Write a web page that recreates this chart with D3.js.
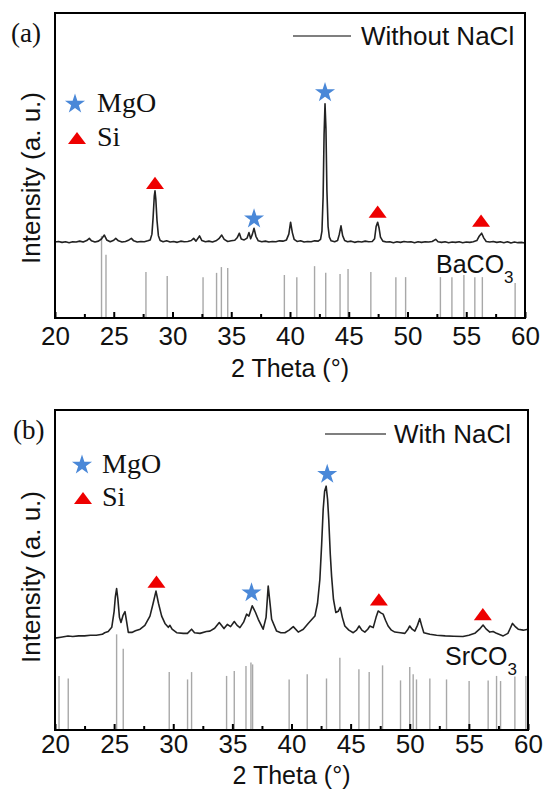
<!DOCTYPE html>
<html>
<head>
<meta charset="utf-8">
<script src="https://cdn.jsdelivr.net/npm/d3@7"></script>
<style>
  body { margin: 0; background: #fff; }
  svg { display: block; }
  text { font-family: Arial, "Liberation Sans", sans-serif; fill: #111; }
</style>
</head>
<body>
<svg id="fig" width="545" height="792"></svg>
<script>
// 2 theta axis
const majorTicks = [20, 25, 30, 35, 40, 45, 50, 55, 60];
const minorTicks = [22.5, 27.5, 32.5, 37.5, 42.5, 47.5, 52.5, 57.5];

// (a) without NaCl : measured pattern [2theta, intensity]
const traceA = [
  [20.0, 24.9], [20.3, 25.1], [20.6, 24.8], [20.9, 25.0], [21.2, 24.7], [21.5, 25.0], [21.8, 24.9],
  [22.1, 25.2], [22.4, 24.9], [22.7, 25.4], [22.92, 26.1], [23.1, 25.3], [23.4, 24.9], [23.7, 25.2],
  [23.95, 25.9], [24.2, 27.2], [24.4, 25.6], [24.7, 25.0], [25.0, 25.5], [25.17, 26.1], [25.4, 25.3],
  [25.7, 24.9], [26.0, 25.1], [26.3, 25.6], [26.5, 26.1], [26.7, 25.3], [27.0, 24.9], [27.3, 25.1],
  [27.6, 25.0], [27.9, 25.3], [28.1, 25.6], [28.25, 27.5], [28.35, 33], [28.45, 40], [28.51, 41.7],
  [28.58, 39], [28.68, 32], [28.8, 27], [28.95, 25.4], [29.2, 25.0], [29.5, 25.3], [29.8, 24.9],
  [30.1, 25.1], [30.4, 24.8], [30.7, 25.2], [31.0, 25.0], [31.3, 25.1], [31.6, 25.4], [31.8, 26.1],
  [32.0, 25.2], [32.3, 26.9], [32.5, 25.4], [32.8, 25.0], [33.1, 25.2], [33.4, 24.9], [33.7, 25.3],
  [33.95, 26.0], [34.19, 27.2], [34.4, 25.8], [34.7, 25.1], [35.0, 25.3], [35.3, 25.5], [35.5, 26.3],
  [35.69, 27.8], [35.85, 25.9], [36.1, 25.6], [36.35, 26.2], [36.51, 28.0], [36.65, 26.0], [36.8, 27.5],
  [36.94, 29.4], [37.1, 26.8], [37.3, 25.3], [37.6, 25.0], [37.9, 25.2], [38.2, 24.9], [38.5, 25.1],
  [38.8, 25.0], [39.1, 25.3], [39.4, 25.2], [39.7, 25.6], [39.9, 27.5], [40.05, 31.4], [40.2, 28.0],
  [40.35, 25.8], [40.6, 25.1], [40.9, 25.3], [41.2, 24.9], [41.5, 25.1], [41.8, 25.0], [42.1, 25.3],
  [42.4, 25.2], [42.6, 25.8], [42.72, 28.5], [42.82, 40], [42.9, 60], [42.98, 70.2], [43.06, 62],
  [43.14, 42], [43.24, 30], [43.35, 26.5], [43.5, 25.3], [43.8, 25.0], [44.05, 25.4], [44.2, 27.5],
  [44.34, 30.2], [44.48, 27.0], [44.65, 25.4], [44.9, 25.0], [45.2, 25.2], [45.5, 24.8], [45.8, 25.1],
  [46.1, 24.9], [46.4, 25.2], [46.7, 25.0], [47.0, 25.1], [47.2, 26.0], [47.33, 30.0], [47.46, 31.4],
  [47.58, 29.5], [47.7, 26.5], [47.9, 25.2], [48.2, 24.9], [48.5, 25.0], [48.8, 24.7], [49.1, 25.0],
  [49.4, 24.8], [49.7, 25.1], [50.0, 24.9], [50.3, 25.0], [50.6, 24.7], [50.9, 25.0], [51.2, 24.8],
  [51.5, 25.0], [51.8, 24.9], [52.1, 25.1], [52.4, 25.8], [52.6, 25.0], [52.9, 24.8], [53.2, 25.0],
  [53.5, 24.7], [53.8, 24.9], [54.1, 24.8], [54.4, 25.0], [54.7, 24.7], [55.0, 24.9], [55.3, 24.8],
  [55.6, 25.0], [55.9, 25.4], [56.1, 26.8], [56.31, 27.8], [56.5, 26.2], [56.7, 25.1], [57.0, 24.9],
  [57.3, 25.1], [57.6, 24.8], [57.9, 25.0], [58.2, 24.7], [58.5, 25.0], [58.8, 24.6], [59.1, 24.9],
  [59.4, 24.7], [59.7, 24.8], [60.0, 24.6]
];
// BaCO3 reference lines [2theta, intensity]
const sticksA = [
  [23.96, 26.9], [24.34, 20.7], [27.74, 15.1], [29.55, 13.8], [32.6, 13.4], [33.75, 14.8],
  [34.16, 16.7], [34.7, 16.4], [39.52, 14.1], [40.58, 13.4], [42.09, 17.0], [43.04, 14.8],
  [44.26, 14.4], [44.94, 16.1], [46.88, 15.1], [49.01, 13.4], [49.84, 13.4], [52.8, 13.4],
  [53.78, 13.4], [54.8, 14.1], [55.73, 13.4], [56.37, 13.4], [59.16, 11.5]
];
const mgoA = [[36.94, 32.5], [42.98, 73.9]];
const siA = [[28.51, 44.3], [47.46, 34.9], [56.26, 31.9]];

// (b) with NaCl
const traceB = [
  [20.0, 28.7], [20.5, 29.0], [21.1, 29.4], [21.5, 29.2], [22.0, 29.4], [22.5, 29.4], [23.0, 29.6],
  [23.5, 29.6], [24.0, 29.9], [24.2, 30.4], [24.5, 30.8], [24.8, 32.1], [25.0, 37.1], [25.1, 41.5],
  [25.21, 44.2], [25.32, 40.8], [25.45, 35.2], [25.58, 33.6], [25.75, 35.8], [25.92, 37.0], [26.05, 34.0],
  [26.2, 30.5], [26.5, 30.5], [26.8, 31.0], [27.2, 31.5], [27.6, 32.7], [28.03, 35.6], [28.3, 39.6],
  [28.54, 43.4], [28.75, 39.6], [29.02, 35.6], [29.3, 33.3], [29.58, 32.1], [29.72, 32.7], [29.9, 31.5],
  [30.29, 30.4], [30.85, 30.2], [31.2, 30.2], [31.55, 31.5], [31.8, 30.4], [32.26, 30.2], [32.8, 30.8],
  [33.1, 30.9], [33.5, 31.8], [33.89, 33.6], [34.29, 31.7], [34.57, 33.0], [34.85, 32.3], [35.16, 33.9],
  [35.4, 32.7], [35.64, 32.0], [35.95, 33.7], [36.2, 36.2], [36.4, 35.6], [36.68, 38.8], [36.95, 36.8],
  [37.19, 34.6], [37.6, 31.5], [37.85, 35.2], [38.03, 45.0], [38.2, 39.0], [38.32, 34.6], [38.74, 30.9],
  [39.1, 30.4], [39.44, 30.4], [39.8, 31.2], [40.15, 32.3], [40.57, 30.6], [41.0, 31.5], [41.41, 33.3],
  [41.98, 35.6], [42.2, 39.6], [42.4, 47.1], [42.55, 58.0], [42.68, 69.0], [42.8, 74.6], [42.93, 76.2],
  [43.05, 72.1], [43.15, 65.8], [43.28, 54.9], [43.39, 48.1], [43.55, 40.8], [43.75, 36.7], [43.95, 37.1],
  [44.12, 38.3], [44.3, 35.2], [44.51, 32.5], [44.85, 31.2], [45.22, 30.4], [45.5, 31.2], [45.72, 32.5],
  [45.95, 31.2], [46.2, 30.6], [46.45, 31.5], [46.63, 32.5], [46.91, 32.0], [47.15, 35.2], [47.33, 37.2],
  [47.55, 36.6], [47.75, 36.2], [47.95, 34.3], [48.17, 32.5], [48.45, 31.2], [48.74, 30.6], [49.2, 30.4],
  [49.59, 30.2], [49.85, 31.5], [50.0, 32.5], [50.2, 31.5], [50.43, 30.9], [50.65, 32.7], [50.85, 34.8],
  [51.0, 32.7], [51.19, 30.4], [51.7, 29.9], [52.27, 29.6], [53.0, 29.4], [53.7, 29.3], [54.5, 29.2],
  [55.0, 29.6], [55.5, 30.2], [55.9, 31.5], [56.2, 32.8], [56.45, 31.6], [56.77, 30.6], [57.05, 30.8],
  [57.34, 30.2], [57.9, 29.4], [58.3, 30.2], [58.5, 31.8], [58.69, 33.3], [58.9, 32.4], [59.17, 31.5],
  [59.6, 31.2], [60.0, 31.5]
];
// SrCO3 reference lines
const sticksB = [
  [20.34, 16.9], [21.12, 16.1], [25.21, 29.9], [25.77, 25.4], [29.66, 18.1], [31.21, 15.8],
  [31.55, 18.1], [34.51, 16.9], [35.16, 18.4], [36.15, 20.0], [36.57, 21.1], [36.71, 20.5],
  [39.8, 15.8], [41.33, 17.4], [42.96, 16.1], [44.09, 22.6], [45.7, 19.0], [46.57, 18.1],
  [47.7, 20.2], [49.22, 15.5], [50.0, 19.7], [50.29, 17.4], [50.57, 15.8], [51.7, 16.1],
  [53.11, 15.8], [55.02, 15.3], [56.63, 15.5], [57.34, 16.9], [57.68, 15.3], [58.89, 16.7],
  [59.82, 16.9]
];
const mgoB = [[36.62, 42.9], [43.02, 79.9]];
const siB = [[28.58, 46.4], [47.39, 40.8], [56.18, 36.2]];

const svg = d3.select("#fig");
const starColor = "#4a88d8";
const triColor = "#ee0000";

const flatTriangle = {
  draw(ctx, size) {
    const w = size / 2, h = size * 0.34;
    ctx.moveTo(0, -h);
    ctx.lineTo(w, h);
    ctx.lineTo(-w, h);
    ctx.closePath();
  }
};
const starPath = d3.symbol().type(d3.symbolStar).size(125)();
const triPath = d3.symbol().type(flatTriangle).size(18)();

function drawPanel(p) {
  const x = d3.scaleLinear().domain([20, 60]).range([p.left, p.right]);
  const y = d3.scaleLinear().domain([0, 100]).range([p.bottom, p.top]);
  const g = svg.append("g");

  // reference lines
  g.selectAll(".stick")
    .data(p.sticks)
    .enter()
    .append("line")
    .attr("x1", (d) => x(d[0]))
    .attr("x2", (d) => x(d[0]))
    .attr("y1", y(0))
    .attr("y2", (d) => y(d[1]))
    .attr("stroke", "#a8a8a8")
    .attr("stroke-width", 1.4);

  // pattern
  const line = d3.line().x((d) => x(d[0])).y((d) => y(d[1]));
  g.append("path")
    .datum(p.trace)
    .attr("d", line)
    .attr("fill", "none")
    .attr("stroke", "#222")
    .attr("stroke-width", 1.6)
    .attr("stroke-linejoin", "round");

  // phase markers
  g.selectAll(".mgo")
    .data(p.mgo)
    .enter()
    .append("path")
    .attr("d", starPath)
    .attr("transform", (d) => `translate(${x(d[0])},${y(d[1])})`)
    .attr("fill", starColor);
  g.selectAll(".si")
    .data(p.si)
    .enter()
    .append("path")
    .attr("d", triPath)
    .attr("transform", (d) => `translate(${x(d[0])},${y(d[1])})`)
    .attr("fill", triColor);

  // axis ticks (inward)
  const minor = g.append("g")
    .attr("transform", `translate(0,${p.bottom})`)
    .call(d3.axisBottom(x).tickValues(minorTicks).tickSize(-4).tickFormat(""));
  const major = g.append("g")
    .attr("transform", `translate(0,${p.bottom})`)
    .call(d3.axisBottom(x).tickValues(majorTicks).tickSize(-6).tickPadding(p.pad).tickFormat(d3.format("d")));
  [minor, major].forEach((a) => {
    a.select(".domain").remove();
    a.selectAll("line").attr("stroke", "#000").attr("stroke-width", 2);
  });
  major.selectAll("text")
    .style("font-family", "Arial, 'Liberation Sans', sans-serif")
    .style("font-size", "26px")
    .attr("fill", "#111");

  // frame
  g.append("rect")
    .attr("x", p.left)
    .attr("y", p.top)
    .attr("width", p.right - p.left)
    .attr("height", p.bottom - p.top)
    .attr("fill", "none")
    .attr("stroke", "#000")
    .attr("stroke-width", 2);

  // axis titles
  g.append("text")
    .attr("x", (p.left + p.right) / 2)
    .attr("y", p.titleY)
    .attr("text-anchor", "middle")
    .style("font-size", "25px")
    .text("2 Theta (\u00B0)");
  g.append("text")
    .attr("transform", `translate(${p.ylabX},${p.ylabY}) rotate(-90)`)
    .attr("text-anchor", "middle")
    .attr("dy", "0.35em")
    .style("font-size", "26px")
    .text("Intensity (a. u.)");

  // panel letter
  g.append("text")
    .attr("x", p.letter[0])
    .attr("y", p.letter[1])
    .style("font-family", "'Times New Roman', 'Liberation Serif', serif")
    .style("font-size", "27px")
    .text(p.letterText);

  // sample legend
  g.append("line")
    .attr("x1", p.legLine[0]).attr("x2", p.legLine[1])
    .attr("y1", p.legLine[2]).attr("y2", p.legLine[2])
    .attr("stroke", "#555").attr("stroke-width", 1.5);
  g.append("text")
    .attr("x", p.legText[0])
    .attr("y", p.legText[1])
    .style("font-size", "26px")
    .text(p.sample);

  // phase legend
  g.append("path").attr("d", starPath)
    .attr("transform", `translate(${p.starLeg[0]},${p.starLeg[1]})`)
    .attr("fill", starColor);
  g.append("path").attr("d", triPath)
    .attr("transform", `translate(${p.triLeg[0]},${p.triLeg[1]})`)
    .attr("fill", triColor);
  [["MgO", p.starLeg[1] + 8], ["Si", p.triLeg[1] + 8]].forEach(([t, yy]) => {
    g.append("text")
      .attr("x", p.phaseX)
      .attr("y", yy)
      .style("font-family", "'Times New Roman', 'Liberation Serif', serif")
      .style("font-size", "28px")
      .text(t);
  });

  // reference compound
  const ref = g.append("text")
    .attr("x", p.refPos[0])
    .attr("y", p.refPos[1])
    .style("font-size", "25px")
    .text(p.refName);
  ref.append("tspan")
    .attr("dy", 10)
    .style("font-size", "17px")
    .text("3");
}

drawPanel({
  left: 55, right: 525, top: 13, bottom: 318, pad: 9, titleY: 377,
  ylabX: 31, ylabY: 178,
  trace: traceA, sticks: sticksA, mgo: mgoA, si: siA,
  letter: [11, 42], letterText: "(a)",
  legLine: [293, 351, 36], legText: [361, 45], sample: "Without NaCl",
  starLeg: [75, 104], triLeg: [77, 138], phaseX: 97,
  refPos: [436, 273], refName: "BaCO"
});

drawPanel({
  left: 55, right: 528, top: 410, bottom: 730, pad: 5, titleY: 784,
  ylabX: 31, ylabY: 577,
  trace: traceB, sticks: sticksB, mgo: mgoB, si: siB,
  letter: [13, 439], letterText: "(b)",
  legLine: [325, 386, 434], legText: [394, 443], sample: "With NaCl",
  starLeg: [82, 465], triLeg: [83, 498], phaseX: 102,
  refPos: [445, 665], refName: "SrCO"
});
</script>
</body>
</html>
